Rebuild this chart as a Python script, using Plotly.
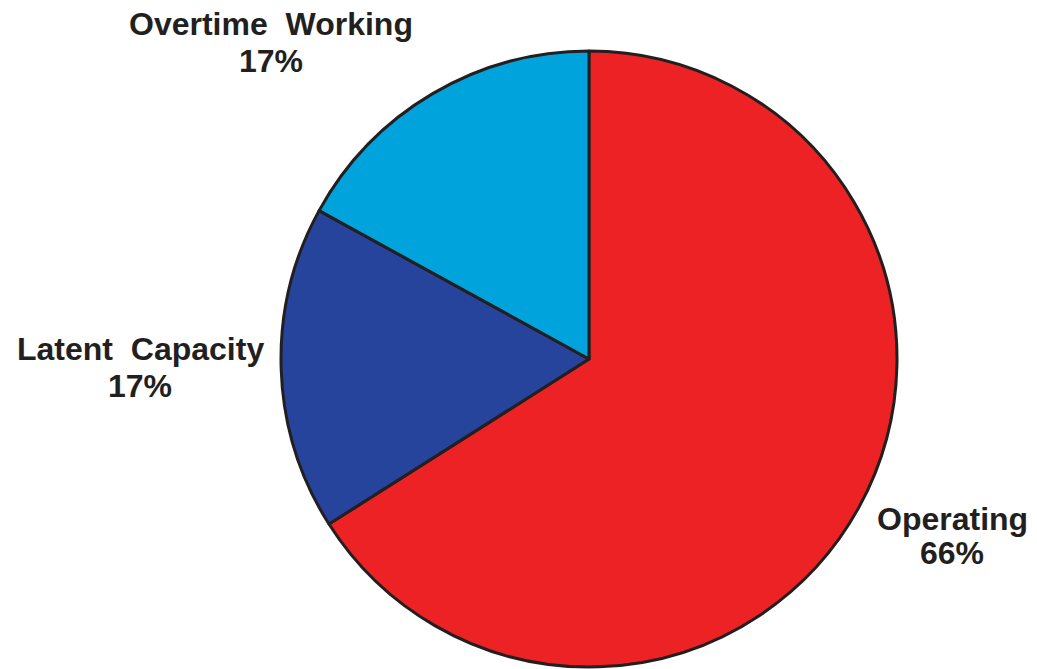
import plotly.graph_objects as go

categories = ["Operating", "Latent Capacity", "Overtime Working"]
values = [66, 17, 17]
pct_labels = ["66%", "17%", "17%"]
colors = ["#ED2224", "#26449B", "#00A3DB"]

# label anchor positions in pixels: (x center, y of name line, y of percent line)
W, H = 1037, 669
label_pos = {
    "Operating": (952, 519, 553),
    "Latent Capacity": (140, 349, 386),
    "Overtime Working": (271, 24, 61),
}

fig = go.Figure()
fig.add_trace(go.Pie(
    labels=categories,
    values=values,
    sort=False,
    direction="clockwise",
    rotation=0,
    marker=dict(colors=colors, line=dict(color="#231F20", width=3)),
    textinfo="none",
    hoverinfo="label+percent",
    showlegend=False,
    domain=dict(x=[281/W, 897/W], y=[1-667/H, 1-51/H]),
))

font = dict(family="Liberation Sans, Arial, sans-serif", size=32, color="#231F20", weight="bold")
for cat, pct in zip(categories, pct_labels):
    px, py1, py2 = label_pos[cat]
    for txt, py in ((cat.replace(" ", "  "), py1), (pct, py2)):
        fig.add_annotation(
            x=px / W, y=1 - py / H, xref="paper", yref="paper",
            text=txt, showarrow=False, xanchor="center", yanchor="middle",
            font=font, align="center",
        )

fig.update_layout(
    width=W, height=H,
    margin=dict(l=0, r=0, t=0, b=0),
    paper_bgcolor="white", plot_bgcolor="white",
)

fig.write_html("out.html")
